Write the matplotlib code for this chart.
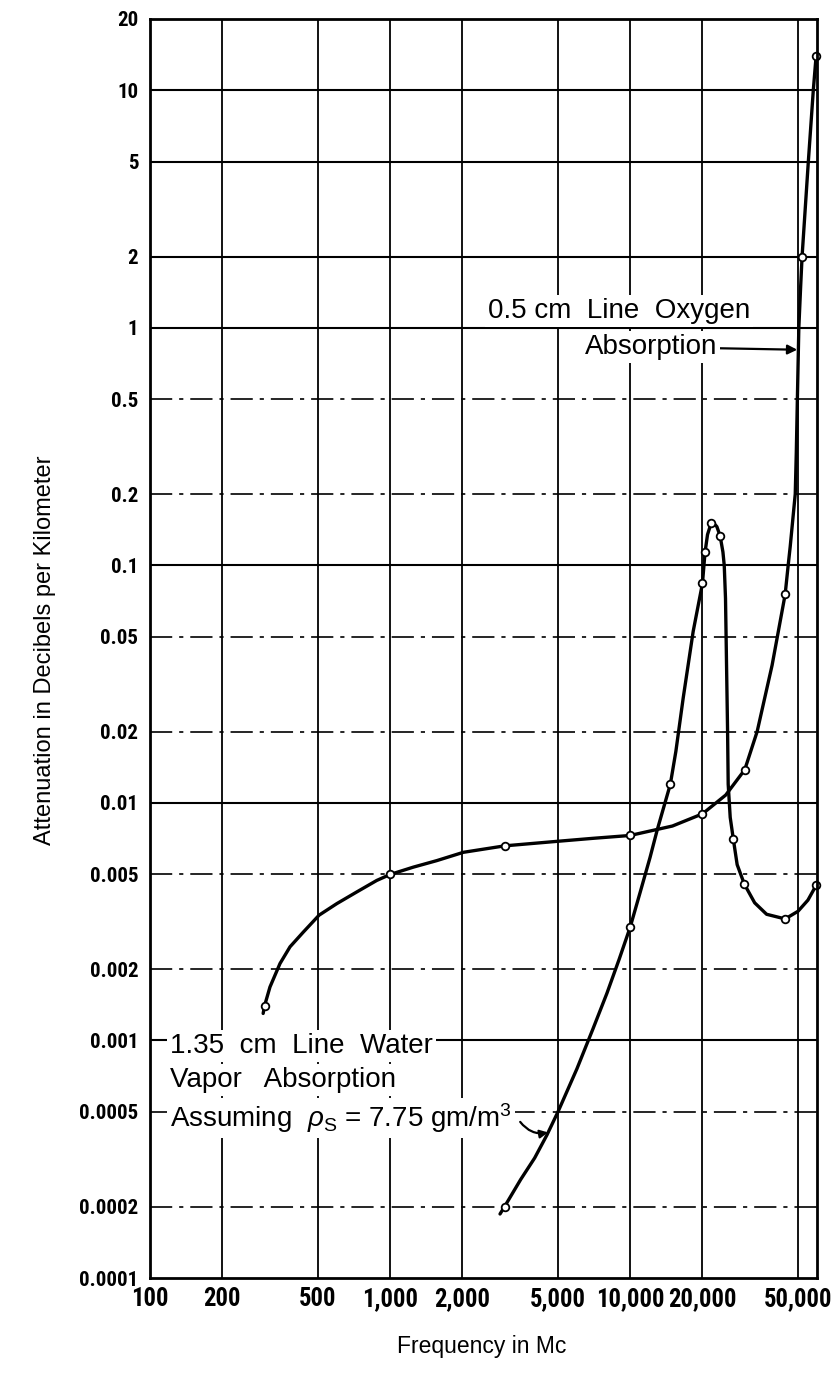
import os
import matplotlib
matplotlib.use('Agg')
import matplotlib.pyplot as plt
import matplotlib.font_manager as fm
from matplotlib.textpath import TextPath
from matplotlib.ticker import FixedLocator, NullLocator, FixedFormatter

plt.rcParams['lines.scale_dashes'] = False
plt.rcParams['font.family'] = ['Liberation Sans', 'DejaVu Sans']
plt.rcParams['mathtext.fontset'] = 'custom'
plt.rcParams['mathtext.rm'] = 'Liberation Sans'
plt.rcParams['mathtext.it'] = 'Liberation Sans:italic'

# ---------------- data ----------------
freq_ticks = [100, 200, 500, 1000, 2000, 5000, 10000, 20000, 50000]
freq_labels = ['100', '200', '500', '1,000', '2,000', '5,000', '10,000', '20,000', '50,000']
att_ticks = [0.0001, 0.0002, 0.0005, 0.001, 0.002, 0.005, 0.01, 0.02, 0.05,
             0.1, 0.2, 0.5, 1, 2, 5, 10, 20]
att_labels = ['0.0001', '0.0002', '0.0005', '0.001', '0.002', '0.005', '0.01', '0.02', '0.05',
              '0.1', '0.2', '0.5', '1', '2', '5', '10', '20']
solid_rows = [0.001, 0.01, 0.1, 1, 2, 5, 10]
dashed_rows = [0.0002, 0.0005, 0.002, 0.005, 0.02, 0.05, 0.2, 0.5]

# 0.5 cm oxygen line (with low-frequency part) - curve
oxy_curve_f = [296, 300, 316, 348, 383, 435, 506, 600, 726, 880, 1000, 1250, 1565, 2020,
               3000, 5000, 7000, 10000, 15000, 20000, 25000, 30000, 33800, 39000, 44200,
               45500, 46400, 48700, 49200, 49700, 50400, 51300, 52000, 55200, 57900, 59500]
oxy_curve_a = [0.0013, 0.0014, 0.00168, 0.00211, 0.00248, 0.00286, 0.00337, 0.00377,
               0.00422, 0.00472, 0.005, 0.00537, 0.00572, 0.0062, 0.0066, 0.0069, 0.0071,
               0.0073, 0.0080, 0.009, 0.0108, 0.0138, 0.020, 0.038, 0.0755, 0.1, 0.12,
               0.2, 0.3, 0.5, 1.0, 1.5, 2.0, 5.0, 10.0, 14.0]
oxy_mark_f = [300, 1000, 3000, 10000, 20000, 30000, 44200, 52000, 59500]
oxy_mark_a = [0.0014, 0.005, 0.0066, 0.0073, 0.009, 0.0138, 0.0755, 2.0, 14.0]

# 1.35 cm water vapour line - curve
h2o_curve_f = [2870, 3000, 3500, 4000, 4500, 5000, 6000, 7000, 8000, 9000, 10000, 11000,
               12100, 12960, 14700, 15500, 16630, 18300, 20000, 20500, 21000, 21750, 22000,
               22970, 23700, 24340, 24650, 24950, 25200, 25450, 25600, 26100, 26900,
               27900, 29900, 33000, 37000, 44200, 50000, 55000, 59500]
h2o_curve_a = [0.000186, 0.0002, 0.00026, 0.00032, 0.0004, 0.0005, 0.00076, 0.00112,
               0.00158, 0.0022, 0.003, 0.0042, 0.0059, 0.0077, 0.012, 0.0165, 0.0277,
               0.0528, 0.084, 0.1135, 0.135, 0.151, 0.153, 0.1457, 0.133, 0.114, 0.1,
               0.0727, 0.038, 0.0201, 0.012, 0.0087, 0.00703, 0.0055, 0.00455, 0.0038,
               0.0034, 0.00325, 0.0035, 0.0039, 0.0045]
h2o_mark_f = [3000, 10000, 14700, 20000, 20500, 21750, 23700, 26900, 29900, 44200, 59500]
h2o_mark_a = [0.0002, 0.003, 0.012, 0.084, 0.1135, 0.151, 0.133, 0.00703, 0.00455,
              0.00325, 0.0045]


# ---------------- condensed bold font for the tick numbers ----------------
def find_condensed_bold():
    prefs = ['liberationsansnarrow-bold.', 'robotocondensed-bold.', 'opensans-condbold.',
             'notosans-condensedbold.', 'roboto_condensed-bold.', 'dejavusanscondensed-bold.']
    files = [f.fname for f in fm.fontManager.ttflist]
    for p in prefs:
        for fn in files:
            if os.path.basename(fn).lower().startswith(p):
                return fn
    for fn in files:
        b = os.path.basename(fn).lower()
        if ('narrow' in b or 'cond' in b) and 'bold' in b and 'italic' not in b \
                and 'oblique' not in b and 'semi' not in b and 'extra' not in b:
            return fn
    return None


def fitted(fp, sample, target_px, max_pt):
    probe = fp.copy()
    probe.set_size(10)
    w_px = TextPath((0, 0), sample, prop=probe).get_extents().width * 100 / 72
    out = fp.copy()
    out.set_size(min(max_pt, 10 * target_px / w_px))
    return out


cond_file = find_condensed_bold()
if cond_file:
    base_fp = fm.FontProperties(fname=cond_file)
else:
    base_fp = fm.FontProperties(family='DejaVu Sans', weight='bold')
xtick_fp = fitted(base_fp, '50,000', 66, 19)
ytick_fp = fitted(base_fp, '0.0005', 57, 19)

# ---------------- figure ----------------
W, H = 833, 1381
fig = plt.figure(figsize=(W / 100, H / 100), dpi=100)
ax = fig.add_axes([150 / W, 1 - 1278 / H, 667 / W, 1259 / H])
ax.set_xscale('log')
ax.set_yscale('log')
ax.set_xlim(100, 60000)
ax.set_ylim(0.0001, 20)

# grid
for v in freq_ticks[1:]:
    ax.axvline(v, color='black', lw=1.3, zorder=1)
for v in solid_rows:
    ax.axhline(v, color='black', lw=1.5, zorder=1)
for v in dashed_rows:
    ax.axhline(v, color='black', lw=1.2, ls=(0, (16, 5, 3, 5)), zorder=1)

# curves
for fx, ay in ((oxy_curve_f, oxy_curve_a), (h2o_curve_f, h2o_curve_a)):
    ax.plot(fx, ay, color='black', lw=2.4, zorder=5, solid_capstyle='round',
            solid_joinstyle='round', clip_on=False)
for fx, ay in ((oxy_mark_f, oxy_mark_a), (h2o_mark_f, h2o_mark_a)):
    ax.plot(fx, ay, ls='none', marker='o', ms=5.5, mfc='white', mec='black',
            mew=1.3, zorder=6, clip_on=False)

# ticks
ax.xaxis.set_major_locator(FixedLocator(freq_ticks))
ax.xaxis.set_major_formatter(FixedFormatter(freq_labels))
ax.xaxis.set_minor_locator(NullLocator())
ax.yaxis.set_major_locator(FixedLocator(att_ticks))
ax.yaxis.set_major_formatter(FixedFormatter(att_labels))
ax.yaxis.set_minor_locator(NullLocator())
ax.tick_params(axis='both', length=0)
ax.tick_params(axis='x', pad=6.5)
ax.tick_params(axis='y', pad=8.5)
for lab in ax.get_xticklabels():
    lab.set_fontproperties(xtick_fp)
for lab in ax.get_yticklabels():
    lab.set_fontproperties(ytick_fp)

for s in ax.spines.values():
    s.set_linewidth(2.0)
    s.set_zorder(7)

# axis titles
fig.text(482 / W, 1 - 1346 / H, 'Frequency in Mc', ha='center', va='center', fontsize=16.5)
fig.text(45 / W, 1 - 650 / H, 'Attenuation in Decibels per Kilometer', ha='center',
         va='center', rotation=90, fontsize=17)

# annotations
box = dict(facecolor='white', edgecolor='none', pad=2)
tfs = 20
ax.text(0.507, 0.768, '0.5 cm  Line  Oxygen', transform=ax.transAxes, ha='left',
        va='center', fontsize=tfs, bbox=box, zorder=4)
ax.annotate('Absorption', xy=(49640, 0.81), xytext=(0.652, 0.7395),
            textcoords='axes fraction', ha='left', va='center', fontsize=tfs,
            bbox=box, zorder=4,
            arrowprops=dict(arrowstyle='-|>', color='black', lw=1.6,
                            shrinkA=0, shrinkB=0, mutation_scale=14))
ax.text(0.030, 0.1843, '1.35  cm  Line  Water', transform=ax.transAxes, ha='left',
        va='center', fontsize=tfs, bbox=box, zorder=4)
ax.text(0.030, 0.1573, 'Vapor   Absorption', transform=ax.transAxes, ha='left',
        va='center', fontsize=tfs, bbox=box, zorder=4)
ax.text(0.030, 0.127, r'Assuming  $\rho_{\rm S}$ = 7.75 gm/m$^3$', transform=ax.transAxes,
        ha='left', va='center', fontsize=tfs, bbox=box, zorder=4)
ax.annotate('', xy=(4550, 0.00041), xytext=(0.555, 0.124), textcoords='axes fraction',
            arrowprops=dict(arrowstyle='-|>', color='black', lw=1.6, shrinkA=0, shrinkB=0,
                            mutation_scale=12, connectionstyle='arc3,rad=0.3'), zorder=4)

fig.savefig('out.png', dpi=100, facecolor='white')
